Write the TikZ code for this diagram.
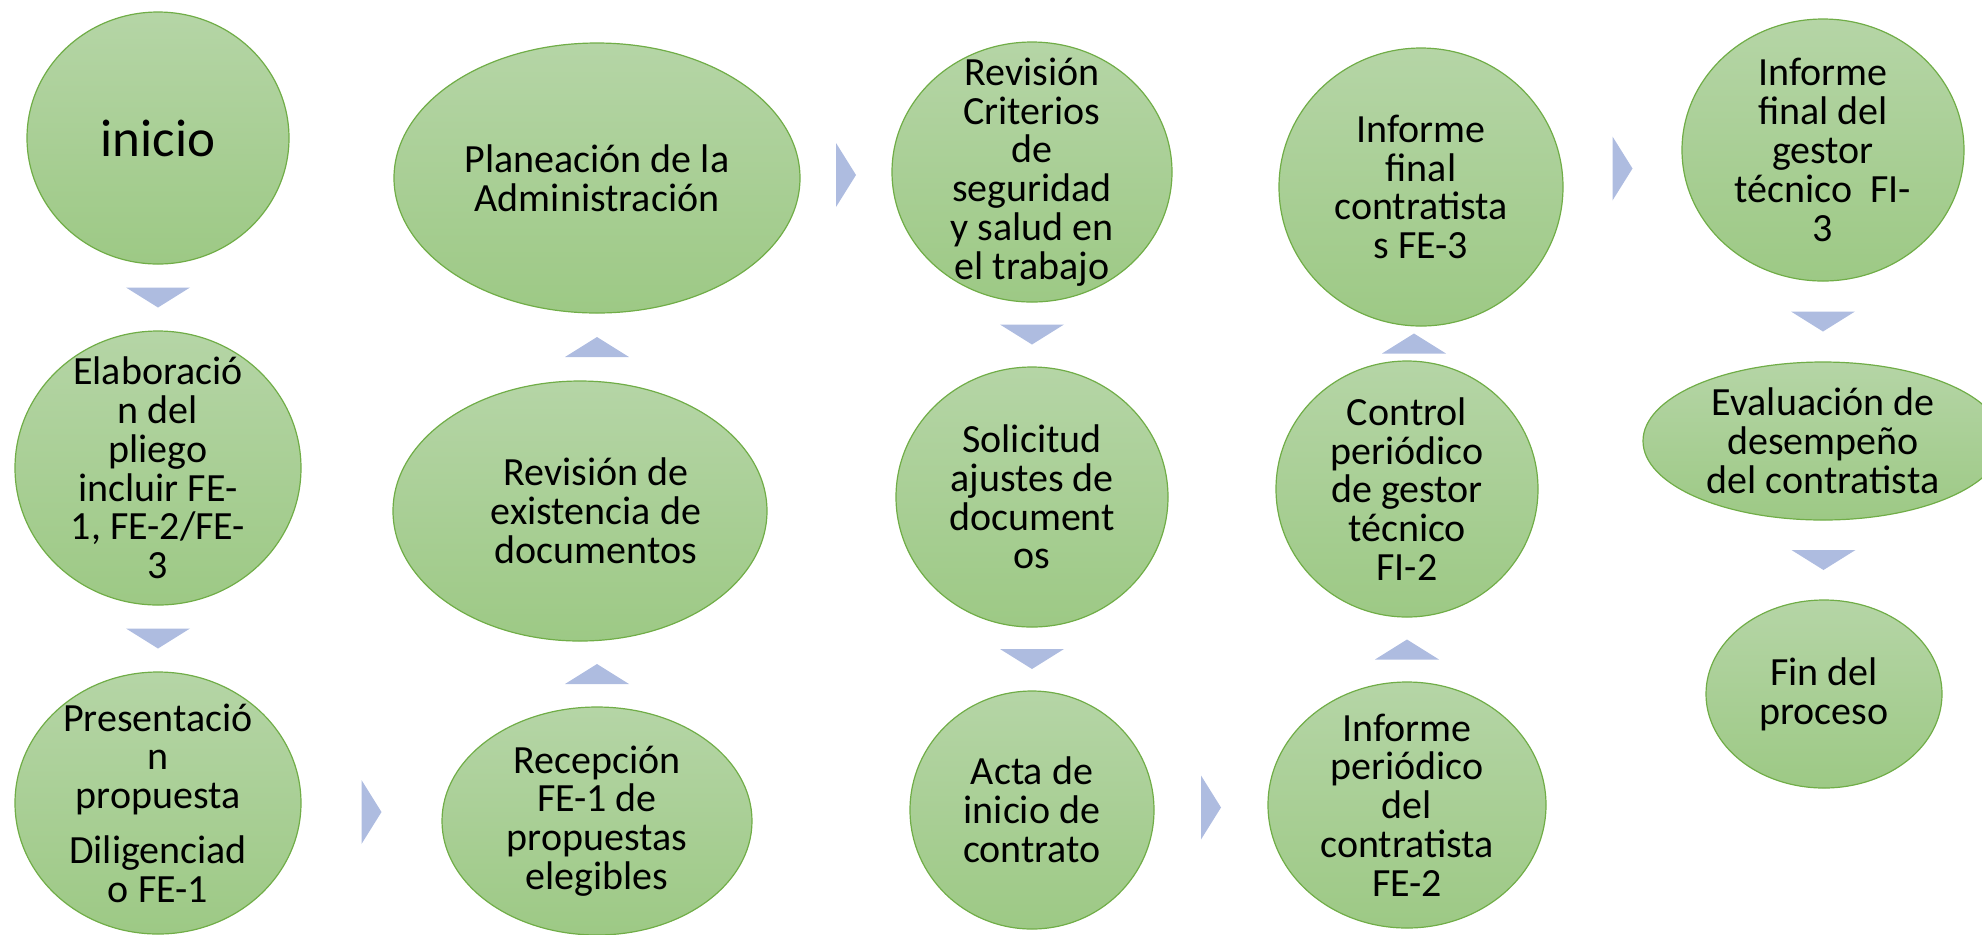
\documentclass[tikz,border=0pt]{standalone}
\usepackage{fontspec}
\setmainfont{Carlito}
\usetikzlibrary{shapes.geometric,calc}
\definecolor{smVerdeA}{HTML}{B5D5A6}
\definecolor{smVerdeB}{HTML}{9DC985}
\definecolor{smBorde}{HTML}{70AD47}
\definecolor{smFlecha}{HTML}{AEBCE0}
\tikzset{
  paso/.style 2 args={ellipse,draw=smBorde,line width=0.6pt,top color=smVerdeA,bottom color=smVerdeB,
    minimum width=#1pt,minimum height=#2pt,inner sep=0pt},
  txt/.style={align=center,font=\fontsize{20}{19.4}\selectfont,inner sep=0pt},
  pics/flecha/.style={code={\fill[smFlecha,rotate=#1] (-10,-32) -- (10,0) -- (-10,32) -- cycle;}}
}
\begin{document}
\begin{tikzpicture}[x=0.5pt,y=-0.5pt]
	\useasboundingbox (0,0) rectangle (1982,934);
	\clip (0,0) rectangle (1982,934);
	% columna 1
	\node[paso={131}{126}] (inicio) at (158,138) {};
	\node[paso={143}{137}] (elab) at (158,468) {};
	\node[paso={143}{131}] (pres) at (158,803) {};
	% columna 2
	\node[paso={155}{114}] (recep) at (597,821) {};
	\node[paso={187}{130}] (rev) at (580,511) {};
	\node[paso={203}{135}] (plan) at (597,178) {};
	% columna 3
	\node[paso={140}{130}] (crit) at (1032,172) {};
	\node[paso={136}{130}] (solic) at (1032,497) {};
	\node[paso={122}{119}] (acta) at (1032,810) {};
	% columna 4
	\node[paso={139}{123}] (infper) at (1407,805) {};
	\node[paso={131}{128}] (ctrl) at (1407,489) {};
	\node[paso={142}{139}] (inffin) at (1421,187) {};
	% columna 5
	\node[paso={141}{131}] (gestor) at (1823,150) {};
	\node[paso={180}{79}] (eval) at (1823,441) {};
	\node[paso={118}{94}] (fin) at (1824,694) {};
	% textos
	\node[txt,font=\fontsize{26.5}{30}\selectfont] (inicio-t) at (inicio) {inicio};
	\node[txt] (elab-t) at (elab) {Elaboració\\n del\\pliego\\incluir FE-\\1, FE-2/FE-\\3};
	\node[txt] (pres-t) at (pres) {Presentació\\n\\propuesta\\[8pt]Diligenciad\\o FE-1};
	\node[txt] (recep-t) at (recep) {Recepción\\FE-1 de\\propuestas\\elegibles};
	\node[txt] (rev-t) at ([xshift=8pt]rev) {Revisión de\\existencia de\\documentos};
	\node[txt] (plan-t) at (plan) {Planeación de la\\Administración};
	\node[txt] (crit-t) at (crit) {Revisión\\Criterios\\de\\seguridad\\y salud en\\el trabajo};
	\node[txt] (solic-t) at (solic) {Solicitud\\ajustes de\\document\\os};
	\node[txt] (acta-t) at (acta) {Acta de\\inicio de\\contrato};
	\node[txt] (infper-t) at (infper) {Informe\\periódico\\del\\contratista\\FE-2};
	\node[txt] (ctrl-t) at (ctrl) {Control\\periódico\\de gestor\\técnico\\FI-2};
	\node[txt] (inffin-t) at (inffin) {Informe\\final\\contratista\\s FE-3};
	\node[txt] (gestor-t) at (gestor) {Informe\\final del\\gestor\\técnico~~FI-\\3};
	\node[txt] (eval-t) at (eval) {Evaluación de\\desempeño\\del contratista};
	\node[txt] (fin-t) at (fin) {Fin del\\proceso};
	% flechas
	\pic at ($(inicio.south)!.5!(elab.north)$) {flecha=-90};
	\pic at ($(elab.south)!.5!(pres.north)$) {flecha=-90};
	\pic at ($(pres.east)!.5!(recep.west)$) {flecha=0};
	\pic at ($(recep.north)!.5!(plan.south |- rev.south)$) {flecha=90};
	\pic at ($(plan.south)!.5!(plan.south |- rev.north)$) {flecha=90};
	\pic at ($(plan.east)!.5!(crit.west)$) {flecha=0};
	\pic at ($(crit.south)!.5!(solic.north)$) {flecha=-90};
	\pic at ($(solic.south)!.5!(acta.north)$) {flecha=-90};
	\pic at ($(acta.east)!.5!(infper.west)$) {flecha=0};
	\pic at ($(infper.north)!.5!(ctrl.south)$) {flecha=90};
	\pic at ($(ctrl.north)!.5!(inffin.south)$) {flecha=90};
	\pic at ($(inffin.east)!.5!(gestor.west)$) {flecha=0};
	\pic at ($(gestor.south)!.5!(eval.north)$) {flecha=-90};
	\pic at ($(eval.south)!.5!(fin.north)$) {flecha=-90};
\end{tikzpicture}
\end{document}
